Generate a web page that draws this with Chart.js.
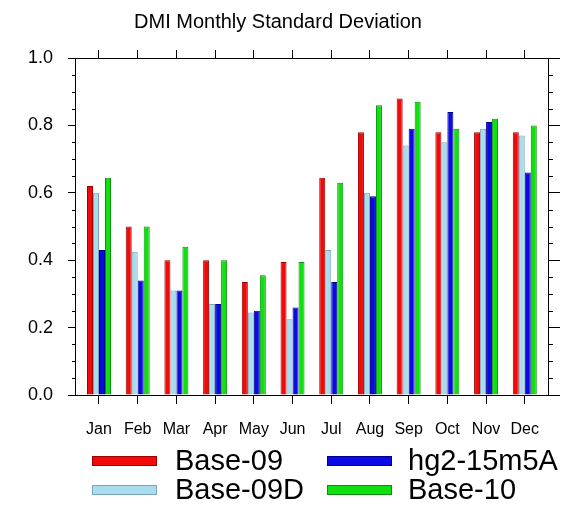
<!DOCTYPE html>
<html>
<head>
<meta charset="utf-8">
<script src="https://cdn.jsdelivr.net/npm/chart.js@4/dist/chart.umd.min.js"></script>
<style>
  html, body { margin: 0; padding: 0; background: #fff; }
  canvas { display: block; }
</style>
</head>
<body>
<canvas id="c" width="587" height="505"></canvas>
<script>
const TITLE = 'DMI Monthly Standard Deviation';
const months = ['Jan','Feb','Mar','Apr','May','Jun','Jul','Aug','Sep','Oct','Nov','Dec'];
const seriesNames = ['Base-09', 'Base-09D', 'hg2-15m5A', 'Base-10'];
const base09   = [0.62, 0.50, 0.40, 0.40, 0.335, 0.395, 0.645, 0.78, 0.88, 0.78, 0.78, 0.78];
const base09D  = [0.60, 0.425, 0.31, 0.27, 0.245, 0.225, 0.43, 0.60, 0.74, 0.75, 0.79, 0.77];
const hg2      = [0.43, 0.34, 0.31, 0.27, 0.25, 0.26, 0.335, 0.59, 0.79, 0.84, 0.81, 0.66];
const base10   = [0.645, 0.50, 0.44, 0.40, 0.355, 0.395, 0.63, 0.86, 0.87, 0.79, 0.82, 0.80];
const yTicks   = [0.0, 0.2, 0.4, 0.6, 0.8, 1.0];

const FONT = '"Liberation Sans", Arial, Helvetica, sans-serif';
const fills   = ['#f00a0a', '#a8dcee', '#0a0ae6', '#10e010'];
const borders = ['#a00000', '#7aa6b8', '#00008a', '#089008'];

const seriesValues = [base09, base09D, hg2, base10];
const datasets = seriesValues.map((vals, k) => ({
  label: seriesNames[k],
  data: vals.map((v, i) => ({ x: i, y: v })),
  backgroundColor: fills[k],
  borderColor: borders[k],
  borderWidth: 1,
  borderSkipped: 'start',
  categoryPercentage: 0.62,
  barPercentage: 1.0
}));

const xMin = -0.62, xMax = 11.6;

const framePlugin = {
  id: 'framePlugin',
  afterDraw(chart) {
    const ctx = chart.ctx;
    const a = chart.chartArea;
    const y = chart.scales.y;
    ctx.save();
    ctx.strokeStyle = '#000';
    ctx.lineWidth = 1;
    // minor ticks every 0.05
    for (let k = 1; k < 20; k++) {
      if (k % 4 === 0) continue;
      const py = Math.round(y.getPixelForValue(k * 0.05)) + 0.5;
      ctx.beginPath(); ctx.moveTo(a.left - 3, py); ctx.lineTo(a.left, py); ctx.stroke();
      ctx.beginPath(); ctx.moveTo(a.right, py); ctx.lineTo(a.right + 5, py); ctx.stroke();
    }
    // legend (2 columns, column-major)
    const cols = [{ sx: 92, tx: 175 }, { sx: 327, tx: 408 }];
    const rows = [461, 490];
    ctx.font = '29px ' + FONT;
    ctx.textBaseline = 'middle';
    ctx.textAlign = 'left';
    chart.data.datasets.forEach((ds, k) => {
      const c = cols[Math.floor(k / 2)];
      const ry = rows[k % 2];
      ctx.fillStyle = ds.backgroundColor;
      ctx.fillRect(c.sx, ry - 5, 65, 10);
      ctx.strokeStyle = ds.borderColor;
      ctx.lineWidth = 1;
      ctx.strokeRect(c.sx + 0.5, ry - 5 + 0.5, 64, 9);
      ctx.fillStyle = '#000';
      ctx.fillText(ds.label, c.tx, ry + 1);
    });
    ctx.restore();
  }
};

new Chart(document.getElementById('c'), {
  type: 'bar',
  data: { datasets },
  plugins: [framePlugin],
  options: {
    responsive: false,
    animation: false,
    devicePixelRatio: 1,
    layout: { padding: { left: 0, right: 31, top: 0, bottom: 0 } },
    plugins: {
      legend: { display: false },
      tooltip: { enabled: false },
      title: {
        display: true, text: TITLE, color: '#000',
        font: { size: 20, family: FONT, weight: 'normal' },
        padding: { top: 10, bottom: 0 }
      }
    },
    scales: {
      x: {
        type: 'linear', position: 'bottom', min: xMin, max: xMax, offset: false,
        grid: { display: true, drawOnChartArea: false, drawTicks: true, tickLength: 9, color: '#000', offset: false },
        border: { display: true, color: '#000', width: 1 },
        ticks: {
          stepSize: 1, includeBounds: false, autoSkip: false, maxRotation: 0, minRotation: 0,
          padding: 16, color: '#000', font: { size: 16, family: FONT },
          callback: (v) => (Number.isInteger(v) && months[v] !== undefined) ? months[v] : ''
        },
        afterFit(s) { s.height = 110; }
      },
      x2: {
        type: 'linear', position: 'top', min: xMin, max: xMax, offset: false,
        grid: { display: true, drawOnChartArea: false, drawTicks: true, tickLength: 8, color: '#000', offset: false },
        border: { display: true, color: '#000', width: 1 },
        ticks: { display: false, stepSize: 1, includeBounds: false },
        afterFit(s) { s.height = 24; }
      },
      y: {
        type: 'linear', position: 'left', min: 0, max: 1, beginAtZero: true,
        grid: { display: true, drawOnChartArea: false, drawTicks: true, tickLength: 7, color: '#000' },
        border: { display: true, color: '#000', width: 1 },
        afterBuildTicks(s) { s.ticks = yTicks.map(v => ({ value: v })); },
        ticks: {
          padding: 15, color: '#000', font: { size: 18, family: FONT },
          callback: (v) => Number(v).toFixed(1)
        },
        afterFit(s) { s.width = 75; }
      },
      y2: {
        type: 'linear', position: 'right', min: 0, max: 1,
        grid: { display: true, drawOnChartArea: false, drawTicks: true, tickLength: 12, color: '#000' },
        border: { display: true, color: '#000', width: 1 },
        afterBuildTicks(s) { s.ticks = yTicks.map(v => ({ value: v })); },
        ticks: { display: false },
        afterFit(s) { s.width = 8; }
      }
    }
  }
});
</script>
</body>
</html>
